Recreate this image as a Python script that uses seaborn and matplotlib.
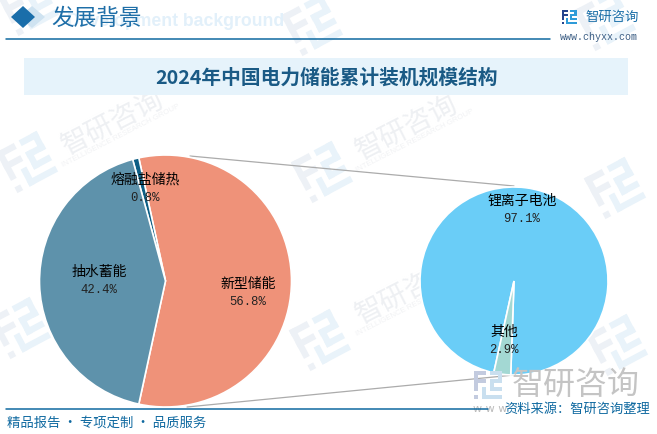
import matplotlib
matplotlib.use("Agg")
import matplotlib.pyplot as plt
import matplotlib.transforms as mt
from matplotlib.patches import Polygon, Rectangle
import seaborn as sns

sns.set_theme(style="white")
plt.rcParams['font.family'] = ['Noto Sans CJK SC', 'DejaVu Sans']

# ---- data ----
main_labels = ["新型储能", "熔融盐储热", "抽水蓄能"]
main_values = [56.8, 0.8, 42.4]
sub_labels = ["锂离子电池", "其他"]
sub_values = [97.1, 2.9]
chart_title = "2024年中国电力储能累计装机规模结构"
section_title = "发展背景"
ghost_title = "Development background"
footer_left = "精品报告 · 专项定制 · 品质服务"
footer_right = "资料来源：智研咨询整理"
brand = "智研咨询"
brand_en = "INTELLIGENCE RESEARCH GROUP"
site = "www.chyxx.com"

main_colors = sns.color_palette(["#EF9279", "#0E5F85", "#5E92AB"])
sub_colors = sns.color_palette(["#6ACDF7", "#A3D8D3"])

W, H = 657, 434
BLUE = "#0F69A0"
fig = plt.figure(figsize=(W/100, H/100), dpi=100, facecolor="white")
bg = fig.add_axes([0, 0, 1, 1], zorder=0)
bg.set_xlim(0, W); bg.set_ylim(H, 0); bg.axis("off")

def axes_at(cx, cy, r):
    a = fig.add_axes([(cx-r)/W, 1-(cy+r)/H, 2*r/W, 2*r/H], zorder=2)
    a.set_xlim(-1, 1); a.set_ylim(-1, 1); a.axis("off")
    return a

LOGO_A = [(0,0,.44,.14),(0,0,.14,.70),(0,.30,.44,.14),(0,.86,.14,.14)]
LOGO_B = [(.56,0,.44,.14),(.86,0,.14,.44),(.56,.30,.44,.14),(.56,.30,.14,.42),(.56,.58,.44,.14),
          (.30,.58,.14,.42),(.30,.86,.70,.14)]

def logo(ax, cx, cy, s, c1, c2, alpha=1.0, rot=0, z=1):
    tr = mt.Affine2D().translate(-.5, -.5).scale(s).rotate_deg(rot).translate(cx, cy) + ax.transData
    for bars, c in ((LOGO_A, c1), (LOGO_B, c2)):
        for b in bars:
            ax.add_patch(Rectangle(b[:2], b[2], b[3], fc=c, ec="none", alpha=alpha, transform=tr, zorder=z))

# tiled watermarks
wm_logos = [(27,162),(322,172),(615,188),(20,328),(320,340),(617,345),(28,5),(312,25),(605,20)]
wm_texts = [(113,123),(407,128),(407,292)]
for x, y in wm_logos:
    logo(bg, x, y, 46, "#EDF1F6", "#E9F3FA", rot=-28)
for x, y in wm_texts:
    bg.text(x, y, brand, fontsize=20, color="#EEF0F3", rotation=27, rotation_mode="anchor",
            ha="center", va="center", zorder=1)
    bg.text(x+8, y+13, brand_en, fontsize=5.6, color="#F1F2F4", rotation=27, rotation_mode="anchor",
            ha="center", va="center", family="Liberation Sans", zorder=1)

# header
bg.add_patch(Polygon([(32,6),(45,17),(32,28),(19,17)], fc="#CFE3F1", ec="none", zorder=2))
bg.add_patch(Polygon([(23,6),(35,17),(23,28),(11,17)], fc="#1A6EAA", ec="none", zorder=3))
bg.text(284, 22, ghost_title, fontsize=12.7, fontweight="bold", color="#E2F0FA", va="center", ha="right",
        family="Liberation Sans", zorder=2)
bg.text(51, 18, section_title, fontsize=16.3, color="#1F6FA8", va="center", ha="left", zorder=3)
bg.plot([6, 550], [38.5, 38.5], color=BLUE, lw=1.1, zorder=3)

# top-right brand
logo(bg, 569, 17, 15, "#24448E", "#2E9BD8", z=3)
bg.text(585, 17, brand, fontsize=9.6, color="#1B6FA8", va="center", ha="left", zorder=3)
bg.text(599, 37, site, fontsize=7.2, color="#3D5F85", va="center", ha="center", family="Liberation Mono", zorder=3)

# title band
bg.add_patch(Rectangle((24, 58), 604, 37, fc="#E6F3FB", ec="none", zorder=2))
bg.text(327, 78, chart_title, fontsize=14.2, fontweight="bold", color="#1A5A85", ha="center", va="center", zorder=3)

# connectors
bg.plot([190, 514], [156, 186], color="#ABABAB", lw=0.9, zorder=3)
bg.plot([187, 514], [407, 375], color="#ABABAB", lw=0.9, zorder=3)

# main pie
ax1 = axes_at(165.5, 281, 126)
ax1.pie(main_values, colors=main_colors, startangle=-main_values[0]*1.8, radius=1, counterclock=True,
        wedgeprops=dict(edgecolor="white", linewidth=1.2))
ax1.set_xlim(-1, 1); ax1.set_ylim(-1, 1)

# sub pie
ax2 = axes_at(514, 281, 94)
ax2.pie(sub_values, colors=sub_colors, startangle=268, radius=1, counterclock=True,
        wedgeprops=dict(edgecolor="white", linewidth=1.2))
ax2.set_xlim(-1, 1); ax2.set_ylim(-1, 1)

# labels
top = fig.add_axes([0, 0, 1, 1], zorder=5)
top.patch.set_alpha(0); top.set_xlim(0, W); top.set_ylim(H, 0); top.axis("off")
main_label_xy = [(248, 284), (145, 180), (99, 272)]
sub_label_xy = [(522, 201), (504, 332)]
for names, vals, xy in [(main_labels, main_values, main_label_xy), (sub_labels, sub_values, sub_label_xy)]:
    for n, v, (x, y) in zip(names, vals, xy):
        top.text(x, y, n, fontsize=10, color="black", ha="center", va="center")
        top.text(x, y+18, f"{v:.1f}%", fontsize=8.8, color="#222222", ha="center", va="center",
                 family="Liberation Mono")

# bottom-right watermark
logo(top, 488, 385, 28, "#C3CBDF", "#C9DFEF", z=1)
top.text(512, 385, brand, fontsize=23, color="#C4C4C4", ha="left", va="center", zorder=1)
top.text(473, 409, "w w w", fontsize=8, color="#BBBBBB", ha="left", va="center", family="DejaVu Sans", zorder=1)

# footer
top.plot([6, 488], [408.5, 408.5], color=BLUE, lw=1.1)
top.text(7, 423, footer_left, fontsize=9.6, color=BLUE, ha="left", va="center")
top.text(504, 409, footer_right, fontsize=9.5, color=BLUE, ha="left", va="center")

fig.savefig("out.png", dpi=100, facecolor="white")
